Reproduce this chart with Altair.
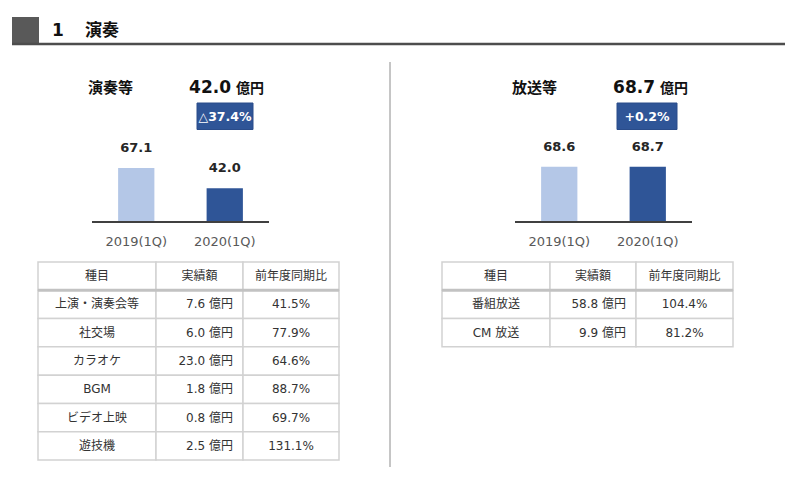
import altair as alt
import pandas as pd

# ---------------- data ----------------
section_no = "1"
section_title = "演奏"
years = ["2019(1Q)", "2020(1Q)"]
perf_title = "演奏等"
perf_values = [67.1, 42.0]
perf_change = "△37.4%"
broad_title = "放送等"
broad_values = [68.6, 68.7]
broad_change = "+0.2%"
unit = "億円"

table_header = ["種目", "実績額", "前年度同期比"]
perf_items = ["上演・演奏会等", "社交場", "カラオケ", "BGM", "ビデオ上映", "遊技機"]
perf_amounts = [7.6, 6.0, 23.0, 1.8, 0.8, 2.5]
perf_ratios = [41.5, 77.9, 64.6, 88.7, 69.7, 131.1]
broad_items = ["番組放送", "CM 放送"]
broad_amounts = [58.8, 9.9]
broad_ratios = [104.4, 81.2]

# ---------------- styling ----------------
FONT = "DejaVu Sans, Noto Sans CJK JP"
LIGHT = "#B4C7E7"
DARK = "#2F5597"
one = pd.DataFrame({"k": [0]})


def box(x, x2, y, y2, **kw):
    return alt.Chart(one).mark_rect(**kw).encode(
        x=alt.value(x), x2=alt.value(x2), y=alt.value(y), y2=alt.value(y2))


def label(txt, x, y, **kw):
    kw.setdefault("font", FONT)
    return alt.Chart(one).mark_text(text=txt, **kw).encode(x=alt.value(x), y=alt.value(y))


def hline(x, x2, y, **kw):
    return alt.Chart(one).mark_rule(**kw).encode(x=alt.value(x), x2=alt.value(x2), y=alt.value(y))


def vline(x, y, y2, **kw):
    return alt.Chart(one).mark_rule(**kw).encode(x=alt.value(x), y=alt.value(y), y2=alt.value(y2))


def bar_panel(values, title, change, x0, x1, title_x, num_right, badge_x0, badge_x1):
    df = pd.DataFrame({"year": years, "value": values,
                       "label": [f"{v:.1f}" for v in values]})
    xs = alt.Scale(domain=years, range=[x0, x1], paddingInner=0.59, paddingOuter=0.295)
    ys = alt.Scale(domain=[0, 100], range=[214, 133.5], nice=False, zero=True)
    X = alt.X("year:N", scale=xs, axis=None)
    Y = alt.Y("value:Q", scale=ys, axis=None)
    bars = alt.Chart(df).mark_bar().encode(
        X, Y,
        color=alt.Color("year:N", scale=alt.Scale(domain=years, range=[LIGHT, DARK]), legend=None))
    vals = alt.Chart(df).mark_text(font=FONT, fontSize=13, fontWeight="bold", color="#262626",
                                   baseline="middle", dy=-20).encode(X, Y, text="label:N")
    yrs = alt.Chart(df).mark_text(font=FONT, fontSize=13, color="#595959",
                                  baseline="middle").encode(X, y=alt.value(234), text="year:N")
    base = hline(x0, x1, 214, color="#404040", strokeWidth=2.2)
    total = f"{values[-1]:.1f}"
    layers = [
        bars, base, vals, yrs,
        label(title, title_x, 80, fontSize=15, fontWeight="bold", align="left",
              baseline="middle", color="#111111"),
        label(total, num_right, 80, fontSize=17, fontWeight="bold", align="right",
              baseline="middle", color="#111111"),
        label(unit, num_right + 5, 81, fontSize=14, fontWeight="bold", align="left",
              baseline="middle", color="#111111"),
        box(badge_x0, badge_x1, 95, 121.5, fill=DARK, stroke="#2A4C8A", strokeWidth=1),
        label(change, (badge_x0 + badge_x1) / 2, 108.5, fontSize=12.5, fontWeight="bold",
              align="center", baseline="middle", color="white"),
    ]
    return layers


def table_panel(items, amounts, ratios, cols):
    c0 = [table_header[0]] + items
    c1 = [table_header[1]] + [f"{a:.1f} {unit}" for a in amounts]
    c2 = [table_header[2]] + [f"{r:.1f}%" for r in ratios]
    df = pd.DataFrame({"row": list(range(len(c0))), "c0": c0, "c1": c1, "c2": c2})
    df["row2"] = df["row"] + 1
    df["mid"] = df["row"] + 0.5
    rs = alt.Scale(domain=[0, 7], range=[254, 452], nice=False, zero=False)
    layers = []
    for i in range(3):
        layers.append(alt.Chart(df).mark_rect(fill="white", stroke="#d2d2d2", strokeWidth=1.5).encode(
            x=alt.value(cols[i]), x2=alt.value(cols[i + 1]),
            y=alt.Y("row:Q", scale=rs, axis=None), y2="row2:Q"))
    layers.append(alt.Chart(df).transform_filter("datum.row == 1").mark_rule(
        color="#c2c2c2", strokeWidth=3).encode(
        x=alt.value(cols[0]), x2=alt.value(cols[3]), y=alt.Y("row:Q", scale=rs, axis=None)))
    txt = dict(font=FONT, fontSize=12, color="#333333", baseline="middle")
    Ym = alt.Y("mid:Q", scale=rs, axis=None)
    layers.append(alt.Chart(df).mark_text(align="center", **txt).encode(
        x=alt.value((cols[0] + cols[1]) / 2), y=Ym, text="c0:N"))
    layers.append(alt.Chart(df).transform_filter("datum.row == 0").mark_text(align="center", **txt).encode(
        x=alt.value((cols[1] + cols[2]) / 2), y=Ym, text="c1:N"))
    layers.append(alt.Chart(df).transform_filter("datum.row > 0").mark_text(align="right", **txt).encode(
        x=alt.value(cols[2] - 10), y=Ym, text="c1:N"))
    layers.append(alt.Chart(df).mark_text(align="center", **txt).encode(
        x=alt.value((cols[2] + cols[3]) / 2), y=Ym, text="c2:N"))
    return layers


layers = [
    box(4, 31, 9, 36, fill="#595959"),
    hline(4, 777, 36, color="#4d4d4d", strokeWidth=2.5),
    label(section_no, 44, 23, fontSize=17, fontWeight="bold", align="left", baseline="middle", color="#111111"),
    label(section_title, 77, 23, fontSize=17, fontWeight="bold", align="left", baseline="middle", color="#111111"),
    vline(382, 54, 459, color="#8c8c8c", strokeWidth=1),
]
layers += bar_panel(perf_values, perf_title, perf_change, 84, 261, 80, 223, 189, 245)
layers += bar_panel(broad_values, broad_title, broad_change, 507, 684, 504, 647, 609, 669)
layers += table_panel(perf_items, perf_amounts, perf_ratios, [30, 148, 235, 331])
layers += table_panel(broad_items, broad_amounts, broad_ratios, [434, 542, 628, 725])

chart = alt.layer(*layers).properties(
    width=784, height=461,
    autosize=alt.AutoSizeParams(type="none"),
    padding=0,
).resolve_scale(x="independent", y="independent").configure_view(stroke=None)

chart.save("out.html", embed_options={"renderer": "svg", "actions": False})
